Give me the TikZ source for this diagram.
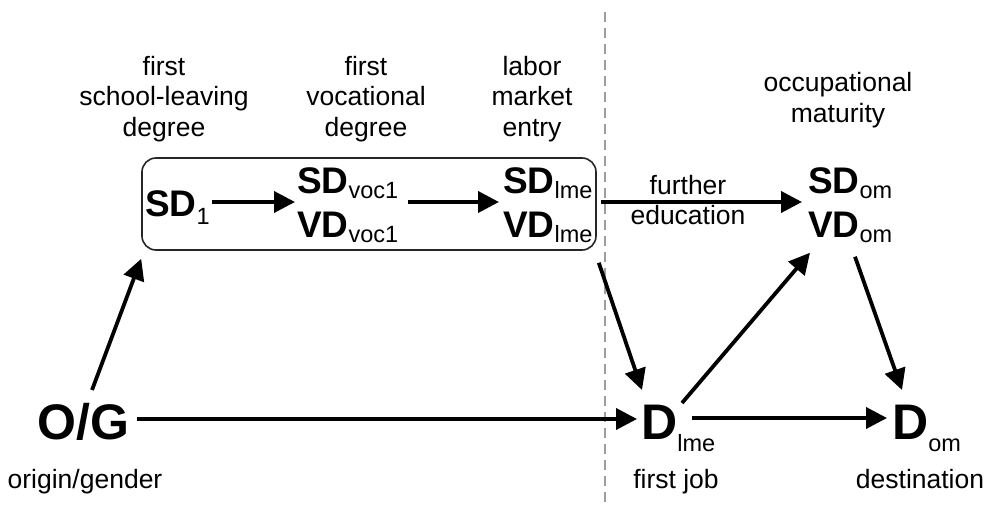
\documentclass[tikz,border=0pt]{standalone}
\usepackage{fontspec}
\setmainfont{Liberation Sans}
\usetikzlibrary{arrows.meta,calc}
\newcommand\Sb[2][7pt]{\raisebox{-#1}{\fontsize{23.5}{23.5}\selectfont #2}}
\newcommand\Bg[1]{{\bfseries #1}}
\begin{document}
\begin{tikzpicture}[x=1pt,y=-1pt,
  lbl/.style={font=\fontsize{26.5}{30.5}\selectfont, align=center, inner sep=0pt},
  var/.style={font=\fontsize{37}{44}\selectfont, align=left, inner sep=0pt},
  big/.style={font=\fontsize{50}{50}\selectfont, inner sep=0pt, anchor=base west},
  arr/.style={line width=3.8pt, -{Triangle[length=21pt,width=21pt]}},
  frame/.style={draw=black!85, line width=1.6pt, rounded corners=14pt},
  divider/.style={draw=black!38, line width=2.2pt, dash pattern=on 10pt off 6pt}]
\useasboundingbox (0,0) rectangle (984,505);
% divider
\coordinate (dtop) at (605,12);
\coordinate (dbot) at (605,502);
\draw[divider] (dtop) -- (dbot);
% labels
\node[lbl] (l1) at (164,99) {first\\school-leaving\\degree};
\node[lbl] (l2) at (366,99) {first\\vocational\\degree};
\node[lbl] (l3) at (532,99) {labor\\market\\entry};
\node[lbl] (l4) at (838,100) {occupational\\maturity};
\node[lbl] (fe) at (688,200) {further\\education};
% box
\node[frame, minimum width=454pt, minimum height=92pt, inner sep=0pt] (box) at (369,204) {};
% variables
\node[var, anchor=base west] (sd1) at (145,216) {\Bg{SD}\Sb[8pt]{1}};
\node[var, anchor=west] (voc) at (297,205) {\Bg{SD}\Sb[5pt]{voc1}\\\Bg{VD}\Sb[5pt]{voc1}};
\node[var, anchor=west] (lme) at (503,205) {\Bg{SD}\Sb[5pt]{lme}\\\Bg{VD}\Sb[5pt]{lme}};
\node[var, anchor=west] (om) at (808,205) {\Bg{SD}\Sb[5pt]{om}\\\Bg{VD}\Sb[5pt]{om}};
\node[big] (og) at (37,439) {\Bg{O/G}};
\node[big] (dlme) at (641,439) {\Bg{D}\Sb[12pt]{lme}};
\node[big] (dom) at (892,439) {\Bg{D}\Sb[12pt]{om}};
% bottom labels
\node[lbl, anchor=base] (t1) at (85,488) {origin/gender};
\node[lbl, anchor=base] (t2) at (676,488) {first job};
\node[lbl, anchor=base] (t3) at (920,488) {destination};
% arrows
\draw[arr] ($(sd1.base east)+(2,-14)$) -- ($(voc.west)+(-2,-3)$);
\draw[arr] ($(voc.east)+(10,-3)$) -- ($(lme.west)+(-4,-3)$);
\draw[arr] ($(lme.east)+(8,-3)$) -- ($(om.west)+(-6,-3)$);
\draw[arr] ($(og.base east)+(8,-20)$) -- ($(dlme.base west)+(-4,-20)$);
\draw[arr] ($(dlme.base west)+(51,-21)$) -- ($(dom.base west)+(-5,-21)$);
\draw[arr] ($(dlme.base west)+(41,-36)$) -- ($(om.south west)+(2,10)$);
\draw[arr] ($(om.south west)+(47,14)$) -- ($(dom.base west)+(10,-49)$);
\draw[arr] ($(og.base west)+(55,-49)$) -- ($(box.south west)+(0,8)$);
\draw[arr] ($(box.south east)+(2,12)$) -- ($(dlme.base west)+(1,-49)$);
\end{tikzpicture}
\end{document}
